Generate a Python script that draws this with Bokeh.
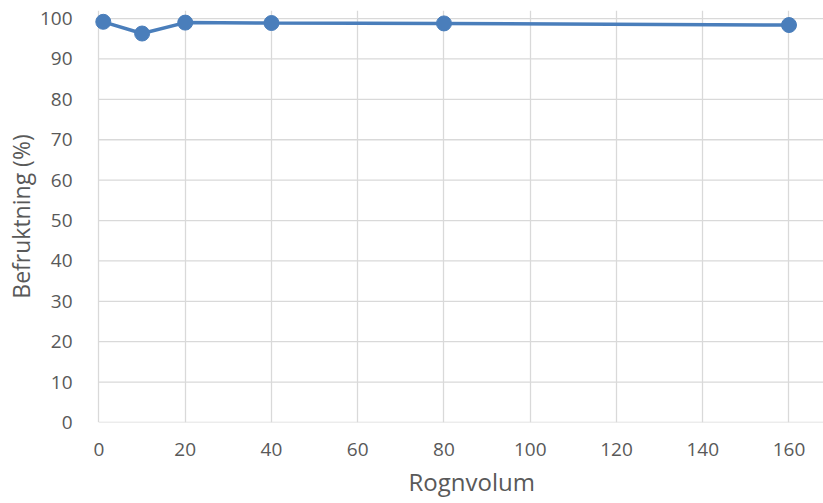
from bokeh.plotting import figure
from bokeh.models import Range1d, FixedTicker, ColumnDataSource, Title
from bokeh.embed import file_html
from bokeh.resources import INLINE

rognvolum = [1, 10, 20, 40, 80, 160]
befruktning = [99.2, 96.3, 99.0, 98.9, 98.8, 98.4]
x_ticks = [0, 20, 40, 60, 80, 100, 120, 140, 160]
y_ticks = [0, 10, 20, 30, 40, 50, 60, 70, 80, 90, 100]
x_min, x_max = 0, 168

src = ColumnDataSource(dict(x=rognvolum, y=befruktning))
grid_src = ColumnDataSource(dict(x0=[x_min] * len(y_ticks), x1=[x_max] * len(y_ticks), y=y_ticks))

p = figure(width=823, height=503, output_backend="svg", toolbar_location=None,
           x_range=Range1d(-1.5, x_max), y_range=Range1d(0, 102),
           min_border_left=92, min_border_right=0, min_border_top=10, min_border_bottom=81)
p.outline_line_color = None
p.background_fill_color = "white"
p.border_fill_color = "white"

# horizontal gridlines starting at x=0
p.segment(x0="x0", y0="y", x1="x1", y1="y", source=grid_src,
          line_color="#d9d9d9", line_width=1.3)
p.ygrid.grid_line_color = None

color = "#4A7EBB"
p.line("x", "y", source=src, line_color=color, line_width=3.5)
p.scatter("x", "y", source=src, size=15, fill_color=color, line_color=color)

FONT = "Open Sans"
for ax in (p.xaxis[0], p.yaxis[0]):
    ax.axis_line_color = None
    ax.major_tick_line_color = None
    ax.minor_tick_line_color = None
    ax.major_label_text_font = FONT
    ax.major_label_text_font_size = "19px"
    ax.major_label_text_color = "#595959"
    ax.axis_label_text_font = FONT
    ax.axis_label_text_font_size = "23px"
    ax.axis_label_text_color = "#595959"
    ax.axis_label_text_font_style = "normal"

p.xaxis.ticker = FixedTicker(ticks=x_ticks)
p.yaxis.ticker = FixedTicker(ticks=y_ticks)
p.yaxis.axis_label = "Befruktning (%)"
p.xaxis.major_label_standoff = 14
p.yaxis.major_label_standoff = 14
p.yaxis.axis_label_standoff = 0

p.add_layout(Title(text="Rognvolum", align="left", offset=316, standoff=8,
                   text_font=FONT, text_font_size="24px", text_color="#595959",
                   text_font_style="normal"), "below")

p.xgrid.grid_line_color = "#d9d9d9"
p.xgrid.grid_line_width = 1.3
p.xgrid.ticker = FixedTicker(ticks=x_ticks)

open("out.html", "w").write(file_html(p, INLINE))
